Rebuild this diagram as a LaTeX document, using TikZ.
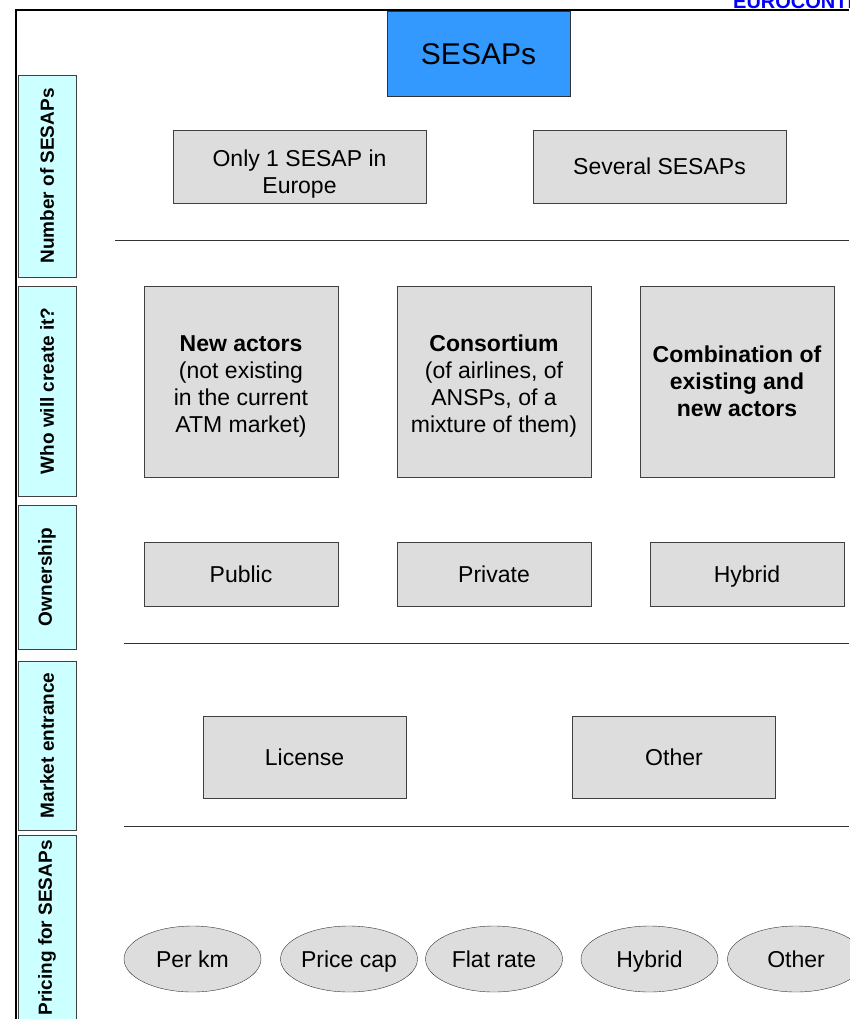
\documentclass[tikz,border=0pt]{standalone}
\usepackage{fontspec}
\setmainfont{Liberation Sans}
\usetikzlibrary{shapes.geometric}
\definecolor{sesapblue}{HTML}{3399FF}
\definecolor{optgray}{HTML}{DDDDDD}
\definecolor{rowcyan}{HTML}{CCFFFF}
\definecolor{eurolink}{HTML}{0000FF}

\begin{document}
\begin{tikzpicture}[x=1pt, y=-1pt,
    option/.style={draw=black!75, fill=optgray, inner sep=0pt, align=center,
        font=\fontsize{23}{27}\selectfont},
    oneline/.style={option, text height=16.5, text depth=0},
    rowlabel/.style={draw=black!75, fill=rowcyan, rotate=90, inner sep=0pt,
        minimum height=58, font=\fontsize{19}{22}\selectfont\bfseries},
    pricing/.style={ellipse, draw=black!80, fill=optgray, inner sep=0pt,
        text height=16.5, text depth=0,
        minimum width=137, minimum height=66, font=\fontsize{23}{27}\selectfont},
    sepline/.style={draw=black!80, line width=0.8pt}]
    % page size in pixels of the original sheet, y downwards
    \useasboundingbox (0,0) rectangle (849,1019);

    % Frame (top rule and left rule)
    \draw[line width=2pt] (849,10) -- (16,10) -- (16,1019);
    \node[anchor=south west, inner sep=0pt, text=eurolink,
        font=\fontsize{20}{22}\selectfont\bfseries] (euro) at (733,9) {EUROCONTROL};

    % Title
    \node[draw=black!80, fill=sesapblue, minimum width=183, minimum height=85,
        inner sep=0pt, text height=21.5, text depth=0,
        font=\fontsize{30}{34}\selectfont] (title) at (478.5,53.5) {SESAPs};

    % Row labels on the left
    \node[rowlabel, minimum width=202] (rnumber) at (47,176) {Number of SESAPs};
    \node[rowlabel, minimum width=210] (rcreate) at (47,391) {Who will create it?};
    \node[rowlabel, minimum width=144] (rowner) at (47,577) {Ownership};
    \node[rowlabel, minimum width=169] (rmarket) at (47,745.5) {Market entrance};
    \node[rowlabel, minimum width=186] (rpricing) at (47,928) {Pricing for SESAPs};

    % Number of SESAPs
    \node[option, minimum width=253, minimum height=73] (onlyone) at (299.5,166.5)
        {\rule{0pt}{31.5pt}Only 1 SESAP in\\Europe};
    \node[oneline, minimum width=253, minimum height=73] (several) at (659.5,166.5)
        {Several SESAPs};
    \draw[sepline] (115,240) -- (849,240);

    % Who will create it?
    \node[option, minimum width=194, minimum height=191] (newact) at (241,381.5)
        {\rule{0pt}{26.5pt}\textbf{New actors}\\(not existing\\in the current\\ATM market)};
    \node[option, minimum width=194, minimum height=191] (consort) at (494,381.5)
        {\rule{0pt}{26.5pt}\textbf{Consortium}\\(of airlines, of\\ANSPs, of a\\mixture of them)};
    \node[option, minimum width=194, minimum height=191,
        font=\fontsize{23}{27}\selectfont\bfseries] (combi) at (737,381.5)
        {Combination of\\existing and\\new actors};

    % Ownership
    \node[oneline, minimum width=194, minimum height=64] (public) at (241,574) {Public};
    \node[oneline, minimum width=194, minimum height=64] (private) at (494,574) {Private};
    \node[oneline, minimum width=194, minimum height=64] (hybrid) at (747,574) {Hybrid};
    \draw[sepline] (124,643) -- (849,643);

    % Market entrance
    \node[oneline, minimum width=203, minimum height=82] (license) at (304.5,757) {License};
    \node[oneline, minimum width=203, minimum height=82] (mother) at (674,757) {Other};
    \draw[sepline] (124,826) -- (849,826);

    % Pricing
    \node[pricing] (perkm) at (192.5,959) {Per km};
    \node[pricing] (pricecap) at (349,959) {Price cap};
    \node[pricing] (flatrate) at (494,959) {Flat rate};
    \node[pricing] (phybrid) at (649.5,959) {Hybrid};
    \node[pricing] (pother) at (796,959) {Other};
\end{tikzpicture}
\end{document}
